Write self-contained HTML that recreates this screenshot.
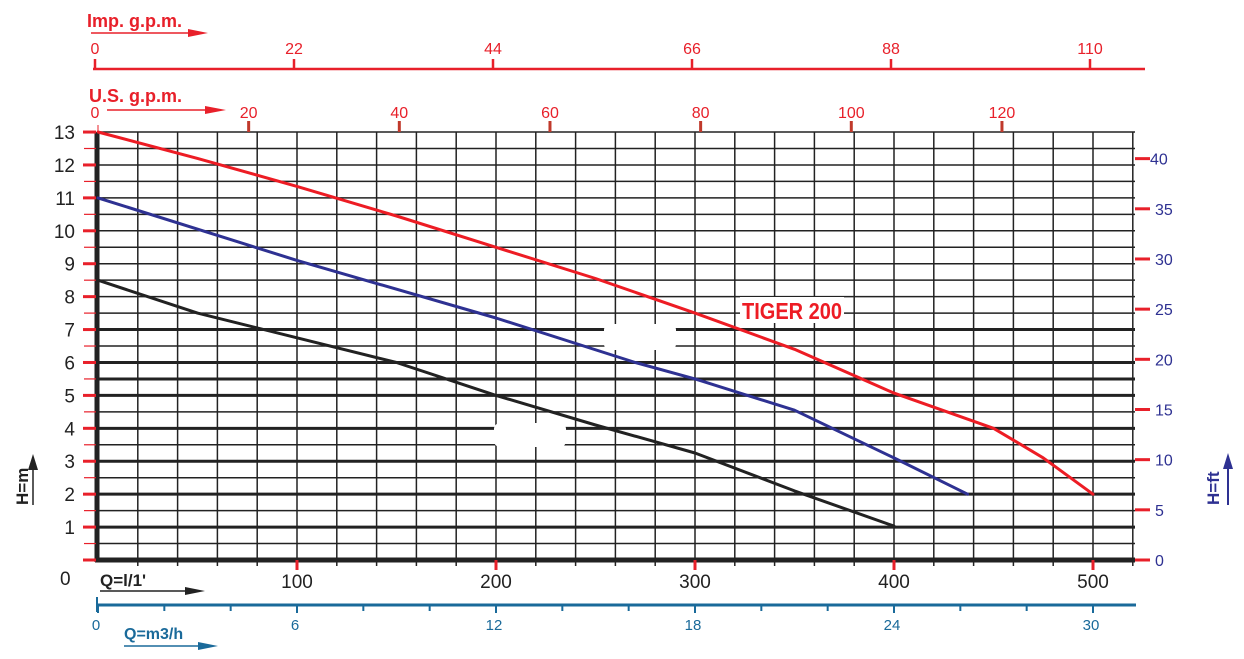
<!DOCTYPE html>
<html><head><meta charset="utf-8"><style>
html,body{margin:0;padding:0;background:#fff;}
svg{display:block;font-family:"Liberation Sans",Arial,sans-serif;}
</style></head><body>
<svg id="chart" width="1244" height="659" viewBox="0 0 1244 659" xmlns="http://www.w3.org/2000/svg"></svg>
<script>
const flowLmin = [0,50,100,150,200,250,300,350,400,450,475,500];
const tiger200Head = [13,12.2,11.35,10.45,9.5,8.55,7.5,6.4,5.07,4.0,3.1,2.0];
const blueFlow = [0,100,200,270,300,350,400,437];
const blueHead = [11,9.1,7.35,6.0,5.5,4.55,3.1,2.0];
const blackFlow = [0,50,100,150,200,250,300,350,400];
const blackHead = [8.5,7.5,6.75,6.0,5.0,4.1,3.25,2.1,1.03];
const mTicks = [0,1,2,3,4,5,6,7,8,9,10,11,12,13];
const ftTicks = [0,5,10,15,20,25,30,35,40];
const lminTicks = [100,200,300,400,500];
const usgpmTicks = [0,20,40,60,80,100,120];
const impTicks = [0,22,44,66,88,110];
const m3hTicks = [0,6,12,18,24,30];

const X0=98, PX=1.99, Y0=560, PY=32.92;
const x = q => X0 + q*PX;
const y = h => Y0 - h*PY;
const yft = f => Y0 - f/3.2808*PY;
const svg = document.getElementById('chart');
const NS='http://www.w3.org/2000/svg';
function mk(tag, attrs, parent){
  const e=document.createElementNS(NS,tag);
  for(const k in attrs) e.setAttribute(k,attrs[k]);
  (parent||svg).appendChild(e); return e;
}
function txt(s, attrs){ const t=mk('text',attrs); t.textContent=s; return t; }

const grid = mk('g',{});


for(let q=20;q<=520;q+=20){
  const l=mk('line',{x1:x(q),x2:x(q),y1:y(13),y2:566,stroke:'#222','stroke-width':1.5},grid);
  
  
}
for(let h=0.5;h<=13;h+=0.5){
  const thick = (h<=7 && (Number.isInteger(h)||h===5.5));
  const l=mk('line',{x1:X0,x2:1135,y1:y(h),y2:y(h),stroke:'#222','stroke-width':thick?3:1.5},grid);
  
  
}
const ax1=mk('line',{x1:X0-1,x2:X0-1,y1:y(13),y2:Y0+2,stroke:'#222','stroke-width':5});


const ax2=mk('line',{x1:X0-3,x2:1135,y1:Y0,y2:Y0,stroke:'#222','stroke-width':5});



mTicks.forEach(h=>{
  const t=mk('line',{x1:83,x2:X0-2,y1:y(h),y2:y(h),stroke:'#e8202a','stroke-width':3});
  
  
  if(h<13){const s=mk('line',{x1:84,x2:X0-2,y1:y(h+0.5),y2:y(h+0.5),stroke:'#e8202a','stroke-width':1.2});
  
  }
  if(h>0){const l=txt(String(h),{x:75,y:y(h)+7,'text-anchor':'end','font-size':19,fill:'#222'});
  
  }
});
const z=txt('0',{x:60,y:585,'font-size':19,fill:'#222'});



ftTicks.forEach(f=>{
  const t=mk('line',{x1:1135,x2:1150,y1:yft(f),y2:yft(f),stroke:'#e8202a','stroke-width':3});
  
  
  const l=txt(String(f),{x:f>=40?1150:1155,y:yft(f)+6,'font-size':16,fill:'#2e3192'});
  
  
});

lminTicks.forEach(q=>{
  const t=mk('line',{x1:x(q),x2:x(q),y1:Y0,y2:Y0+10,stroke:'#e8202a','stroke-width':3});
  
  
  const l=txt(String(q),{x:x(q),y:588,'text-anchor':'middle','font-size':19,fill:'#222'});
  
  
});
const ql=txt('Q=l/1\'',{x:100,y:586,'font-size':17,'font-weight':'bold',fill:'#222'});


const qa=mk('line',{x1:100,x2:190,y1:591,y2:591,stroke:'#222','stroke-width':1.5});


const qh=mk('polygon',{points:'185,587 205,591 185,595',fill:'#222'});



const BL='#1a6a9a';
const m3=mk('line',{x1:97,x2:1136,y1:605,y2:605,stroke:BL,'stroke-width':3});


for(let v=0;v<=30;v+=2){
  const t=mk('line',{x1:x(v*100/6),x2:x(v*100/6),y1:605,y2:v%6===0?613:611,stroke:BL,'stroke-width':2});
  
  
}
const m0=mk('line',{x1:97,x2:97,y1:597,y2:612,stroke:BL,'stroke-width':2});


m3hTicks.forEach(v=>{
  const l=txt(String(v),{x:x(v*100/6)-2,y:630,'text-anchor':'middle','font-size':15,fill:BL});
  
  
});
const mt=txt('Q=m3/h',{x:124,y:639,'font-size':16,'font-weight':'bold',fill:BL});


const ma=mk('line',{x1:124,x2:205,y1:646,y2:646,stroke:BL,'stroke-width':1.5});


const mh=mk('polygon',{points:'198,642 218,646 198,650',fill:BL});



const RD='#e8202a';
usgpmTicks.forEach(g=>{
  const px=x(g*3.7854);
  const t=mk('line',{x1:px,x2:px,y1:g===0?125:121,y2:132,stroke:g===0?RD:'#c0392b','stroke-width':g===0?1:3});
  
  
  const l=txt(String(g),{x:px-(g===0?3:0),y:118,'text-anchor':'middle','font-size':16,fill:RD});
  
  
});
const ut=txt('U.S. g.p.m.',{x:89,y:102,'font-size':18,'font-weight':'bold',fill:RD});


const ua=mk('line',{x1:107,x2:215,y1:110,y2:110,stroke:RD,'stroke-width':1.5});


const uh=mk('polygon',{points:'205,106 226,110 205,114',fill:RD});



const il=mk('line',{x1:93,x2:1145,y1:69,y2:69,stroke:RD,'stroke-width':2.5});


impTicks.forEach(g=>{
  const px=x(g*100/22)-3;
  const t=mk('line',{x1:px,x2:px,y1:59,y2:69,stroke:RD,'stroke-width':2.5});
  
  
  const l=txt(String(g),{x:px,y:54,'text-anchor':'middle','font-size':16,fill:RD});
  
  
});
const it=txt('Imp. g.p.m.',{x:87,y:27,'font-size':18,'font-weight':'bold',fill:RD});


const ia=mk('line',{x1:91,x2:195,y1:33,y2:33,stroke:RD,'stroke-width':1.5});


const ih=mk('polygon',{points:'188,29 208,33 188,37',fill:RD});



const hm=txt('H=m',{x:0,y:0,'font-size':17,'font-weight':'bold',fill:'#222',transform:'translate(28,505) rotate(-90)'});


const hma=mk('line',{x1:33,x2:33,y1:505,y2:462,stroke:'#222','stroke-width':1.5});


const hmh=mk('polygon',{points:'28,470 33,454 38,470',fill:'#222'});


const hf=txt('H=ft',{x:0,y:0,'font-size':17,'font-weight':'bold',fill:'#2e3192',transform:'translate(1219,505) rotate(-90)'});


const hfa=mk('line',{x1:1228,x2:1228,y1:505,y2:462,stroke:'#2e3192','stroke-width':2});


const hfh=mk('polygon',{points:'1223,469 1228,453 1233,469',fill:'#2e3192'});



const b1=mk('rect',{x:604,y:324,width:72,height:26,fill:'#fff',rx:6});


const b2=mk('rect',{x:494,y:423,width:72,height:24,fill:'#fff',rx:6});



function curve(fx, fy, color, name){
  const pts=fx.map((q,i)=>x(q).toFixed(1)+','+y(fy[i]).toFixed(1)).join(' ');
  const p=mk('polyline',{points:pts,fill:'none',stroke:color,'stroke-width':3,'stroke-linejoin':'round','stroke-linecap':'round'});
  
  
}
curve(blackFlow,blackHead,'#222','curve-black');
curve(blueFlow,blueHead,'#2e3192','curve-blue');
curve(flowLmin,tiger200Head,'#ed1c24','curve-tiger-200');

const tb=mk('rect',{x:740,y:297,width:104,height:26,fill:'#fff'});


const tl=txt('TIGER 200',{x:742,y:319,'font-size':23,'font-weight':'bold',fill:'#ed1c24',textLength:100,lengthAdjust:'spacingAndGlyphs'});


</script>
</body></html>
